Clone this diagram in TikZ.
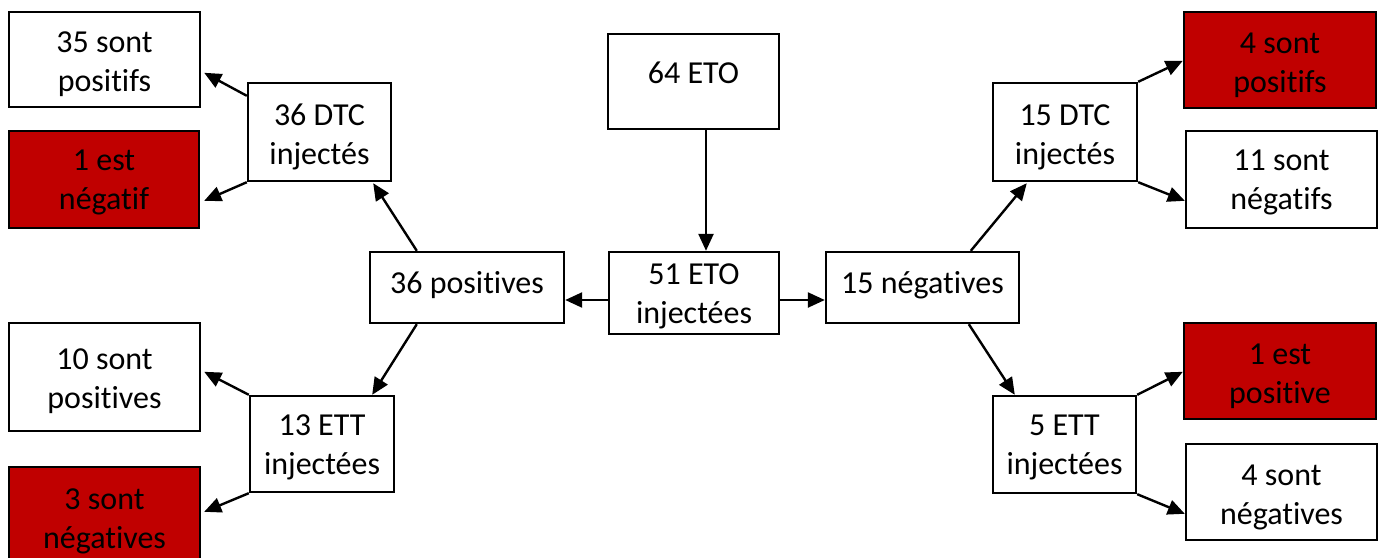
\documentclass[tikz,border=0pt]{standalone}
\usepackage{fontspec}
\setmainfont{Carlito}[Ligatures=CommonOff]
\usetikzlibrary{arrows.meta,calc}
\definecolor{boxred}{HTML}{C00000}
\tikzset{
  box/.style={draw=black, line width=2.4pt, fill=white, inner sep=0pt},
  redbox/.style={box, fill=boxred},
  txt/.style={inner sep=0pt, align=center, font=\fontsize{32}{39}\selectfont},
  conn/.style={line width=2.4pt, -{Triangle[length=17pt,width=15pt]}}
}
\begin{document}
\begin{tikzpicture}[x=1pt,y=-1pt]
\useasboundingbox (0,0) rectangle (1384,557);
% left side
\node[box, minimum width=191, minimum height=95, label={[txt,yshift=-5pt]center:35 sont\\positifs}] (p35) at (104.5,59.5) {};
\node[redbox, minimum width=190, minimum height=97, label={[txt,yshift=-3pt]center:1 est\\négatif}] (n1) at (104,179.5) {};
\node[box, minimum width=143, minimum height=98, label={[txt,yshift=-5pt]center:36 DTC\\injectés}] (dtc36) at (319.5,132) {};
\node[box, minimum width=194, minimum height=71, label={[txt,yshift=2pt]center:36 positives}] (pos36) at (467,287.5) {};
\node[box, minimum width=191, minimum height=108, label={[txt,yshift=-4pt]center:10 sont\\positives}] (p10) at (104.5,377) {};
\node[box, minimum width=144, minimum height=96, label={[txt,yshift=-3pt]center:13 ETT\\injectées}] (ett13) at (322,444) {};
\node[redbox, minimum width=191, minimum height=100, label={[txt,yshift=-4pt]center:3 sont\\négatives}] (n3) at (104.5,517) {};
% centre
\node[box, minimum width=171, minimum height=95, label={[txt,yshift=9pt]center:64 ETO}] (eto64) at (693.5,81.5) {};
\node[box, minimum width=170, minimum height=82, label={[txt,yshift=-3pt]center:51 ETO\\injectées}] (eto51) at (694,293) {};
% right side
\node[box, minimum width=193, minimum height=71, label={[txt,yshift=2pt]center:15 négatives}] (neg15) at (922.5,287.5) {};
\node[box, minimum width=144, minimum height=98, label={[txt,yshift=-5pt]center:15 DTC\\injectés}] (dtc15) at (1065,132) {};
\node[redbox, minimum width=192, minimum height=96, label={[txt,yshift=-5pt]center:4 sont\\positifs}] (p4) at (1280,60) {};
\node[box, minimum width=191, minimum height=97, label={[txt,yshift=-3pt]center:11 sont\\négatifs}] (n11) at (1281.5,179.5) {};
\node[box, minimum width=143, minimum height=97, label={[txt,yshift=-3pt]center:5 ETT\\injectées}] (ett5) at (1064.5,444.5) {};
\node[redbox, minimum width=192, minimum height=96, label={[txt,yshift=-5pt]center:1 est\\positive}] (p1) at (1280,371) {};
\node[box, minimum width=191, minimum height=96, label={[txt,yshift=-5pt]center:4 sont\\négatives}] (n4) at (1281.5,492) {};
% connectors
\draw[conn] (eto64.south -| 706,0) -- (eto51.north -| 706,0);
\draw[conn] ($(eto51.west)+(0,7)$) -- ($(pos36.east)+(0,12.5)$);
\draw[conn] ($(eto51.east)+(0,7)$) -- ($(neg15.west)+(0,12.5)$);
\draw[conn] ($(pos36.north west)+(48,0)$) -- ($(dtc36.south east)+(-19,1)$);
\draw[conn] ($(pos36.south west)+(48,0)$) -- ($(ett13.north east)+(-23,0)$);
\draw[conn] ($(dtc36.north west)+(0,14)$) -- ($(p35.north east)+(3,62)$);
\draw[conn] (dtc36.south west) -- ($(n1.north east)+(4,71)$);
\draw[conn] (ett13.north west) -- ($(p10.north east)+(3,50)$);
\draw[conn] (ett13.south west) -- ($(n3.north east)+(3,46)$);
\draw[conn] ($(neg15.north west)+(146,0)$) -- ($(dtc15.south west)+(35,1)$);
\draw[conn] ($(neg15.south west)+(144,0)$) -- ($(ett5.north west)+(23,0)$);
\draw[conn] (dtc15.north east) -- ($(p4.north west)+(0,50)$);
\draw[conn] (dtc15.south east) -- ($(n11.north west)+(0,71)$);
\draw[conn] (ett5.north east) -- ($(p1.north west)+(0,50)$);
\draw[conn] (ett5.south east) -- ($(n4.north west)+(0,71)$);
\end{tikzpicture}
\end{document}
